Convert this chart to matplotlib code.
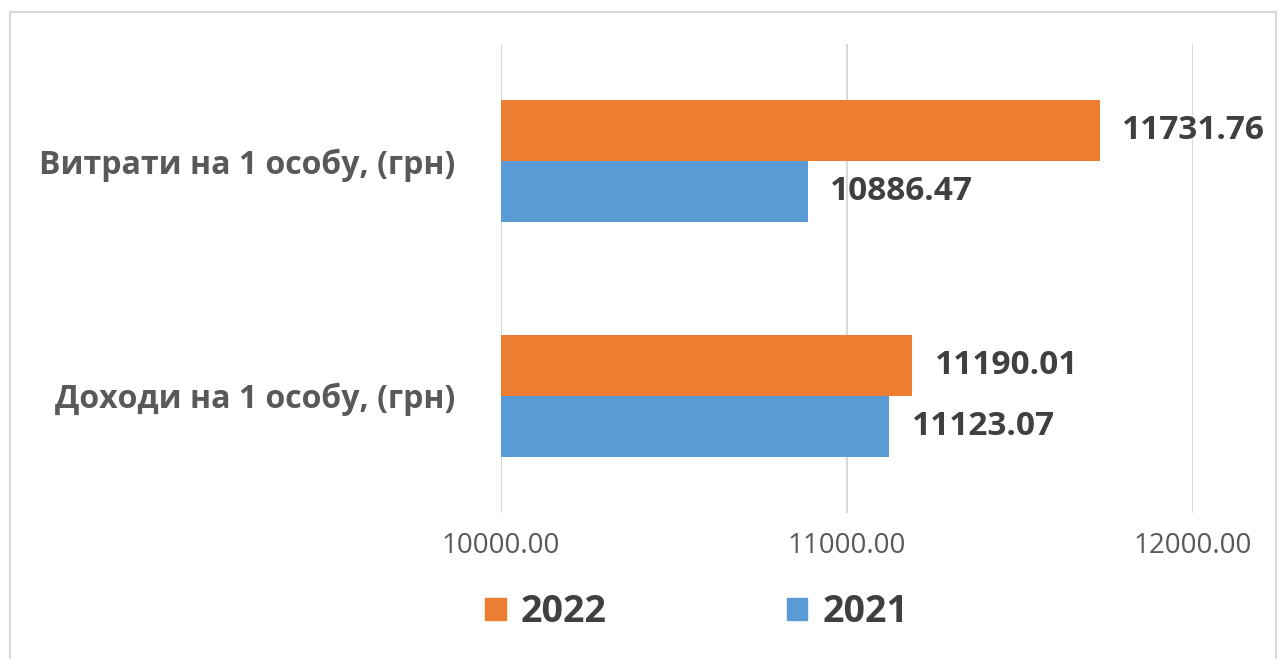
import numpy as np
import matplotlib.pyplot as plt
from matplotlib.patches import Patch, Rectangle

categories = ["Доходи на 1 особу, (грн)", "Витрати на 1 особу, (грн)"]
values_2021 = [11123.07, 10886.47]
values_2022 = [11190.01, 11731.76]
x_ticks = [10000, 11000, 12000]

orange = "#ED7D31"
blue = "#5B9BD5"
label_color = "#404040"

plt.rcParams['font.family'] = ['Open Sans', 'DejaVu Sans']

fig = plt.figure(figsize=(12.83, 6.59), dpi=100)
ax = fig.add_axes([0.3905, 0.2215, 0.539, 0.712])

y = np.arange(len(categories))
h = 0.26
left = 10000
ax.barh(y - h / 2, np.array(values_2021) - left, h, left=left, color=blue, label="2021")
ax.barh(y + h / 2, np.array(values_2022) - left, h, left=left, color=orange, label="2022")

for yy, v in zip(y - h / 2, values_2021):
    ax.annotate(f"{v:.2f}", (v, yy), xytext=(16, 0), textcoords="offset points",
                va="center", ha="left", fontsize=24, fontweight="bold", color=label_color)
for yy, v in zip(y + h / 2, values_2022):
    ax.annotate(f"{v:.2f}", (v, yy), xytext=(16, 0), textcoords="offset points",
                va="center", ha="left", fontsize=24, fontweight="bold", color=label_color)

ax.set_xlim(10000, 12000)
ax.set_ylim(-0.5, 1.5)
ax.set_xticks(x_ticks)
ax.set_xticklabels([f"{t:.2f}" for t in x_ticks], fontsize=20, color="#595959")
ax.set_yticks(y)
ax.set_yticklabels(categories, fontsize=23, fontweight="bold", color="#595959")
ax.tick_params(axis="x", length=0, pad=14)
ax.tick_params(axis="y", length=0, pad=33)
ax.grid(axis="x", color="#D9D9D9", linewidth=1.5)
ax.set_axisbelow(True)
for s in ax.spines.values():
    s.set_visible(False)

handles = [Patch(color=orange, label="2022"), Patch(color=blue, label="2021")]
fig.legend(handles=handles, loc="center", bbox_to_anchor=(0.543, 0.071), ncol=2,
           frameon=False, handlelength=0.55, handleheight=0.55, columnspacing=4.8,
           handletextpad=0.4, prop={"size": 27, "weight": "bold"}, labelcolor=label_color)

fig.patches.append(Rectangle((10 / 1283, -0.01), 1266 / 1283, 1 - 12 / 659 + 0.01,
                             transform=fig.transFigure, fill=False,
                             edgecolor="#D9D9D9", linewidth=1.5))

fig.savefig("out.png", dpi=100)
